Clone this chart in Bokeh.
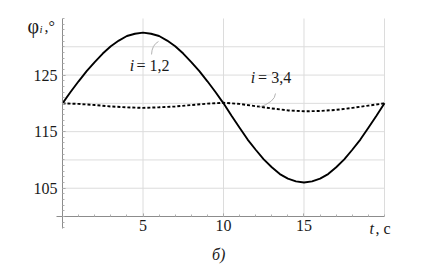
from bokeh.plotting import figure
from bokeh.models import Label, LinearAxis, FixedTicker, Range1d
from bokeh.embed import file_html
from bokeh.resources import INLINE

# ---- data ----
t_solid = [0, 0.5, 1, 1.5, 2, 2.5, 3, 3.5, 4, 4.5, 5, 5.5, 6, 6.5, 7, 7.5, 8, 8.5, 9, 9.5, 10,
           10.5, 11, 11.5, 12, 12.5, 13, 13.5, 14, 14.5, 15, 15.5, 16, 16.5, 17, 17.5, 18, 18.5, 19, 19.5, 20]
phi_12 = [120.0, 122.0, 123.9, 125.7, 127.3, 128.8, 130.1, 131.1, 131.9, 132.3, 132.5,
          132.3, 131.9, 131.1, 130.1, 128.8, 127.3, 125.7, 123.9, 122.0, 120.0,
          117.8, 115.7, 113.6, 111.8, 110.1, 108.7, 107.5, 106.7, 106.2, 106.0,
          106.2, 106.7, 107.5, 108.7, 110.1, 111.8, 113.6, 115.7, 117.8, 120.0]
t_dash = [0, 1, 2, 3, 4, 5, 6, 7, 8, 9, 10, 11, 12, 13, 14, 15, 16, 17, 18, 19, 20]
phi_34 = [120.0, 119.9, 119.7, 119.45, 119.3, 119.2, 119.3, 119.45, 119.7, 119.95, 120.1,
          119.9, 119.5, 119.1, 118.75, 118.6, 118.65, 118.85, 119.2, 119.6, 120.0]

x_major = [5, 10, 15]
x_minor = list(range(0, 21))
y_major = [105, 115, 125]
y_minor = list(range(98, 136))
x_grid = [5, 10, 15, 20]
y_grid = [105, 110, 115, 120, 125, 130]

FONT = "Liberation Serif"
TXT = "#1a1a1a"

p = figure(width=446, height=268,
           x_range=Range1d(-3.851, 23.851), y_range=Range1d(90.81, 138.18),
           output_backend="svg", toolbar_location=None,
           x_axis_type=None, y_axis_type=None,
           min_border=0, min_border_left=0, min_border_right=0,
           min_border_top=0, min_border_bottom=0,
           outline_line_color=None, background_fill_color="white", border_fill_color="white")

# grid lines
p.segment(x0=x_grid, y0=[100] * len(x_grid), x1=x_grid, y1=[135] * len(x_grid),
          line_color="#dcdcdc", line_width=1)
p.segment(x0=[0] * len(y_grid), y0=y_grid, x1=[20] * len(y_grid), y1=y_grid,
          line_color="#dcdcdc", line_width=1)

# axes
xaxis = LinearAxis(ticker=FixedTicker(ticks=x_major, minor_ticks=x_minor),
                   fixed_location=100, bounds=(-0.4, 20))
xaxis.axis_line_color = "#8c8c8c"
xaxis.major_tick_line_color = "#a0a0a0"
xaxis.minor_tick_line_color = "#b0b0b0"
xaxis.major_tick_in = 3
xaxis.major_tick_out = 0
xaxis.minor_tick_in = 2
xaxis.minor_tick_out = 0
xaxis.major_label_standoff = 3
xaxis.major_label_text_font = FONT
xaxis.major_label_text_font_size = "16px"
xaxis.major_label_text_color = TXT
p.add_layout(xaxis, "below")

yaxis = LinearAxis(ticker=FixedTicker(ticks=y_major, minor_ticks=y_minor),
                   fixed_location=0, bounds=(97.88, 135))
yaxis.axis_line_color = "#8c8c8c"
yaxis.major_tick_line_color = "#a0a0a0"
yaxis.minor_tick_line_color = "#b0b0b0"
yaxis.major_tick_in = 3
yaxis.major_tick_out = 0
yaxis.minor_tick_in = 2
yaxis.minor_tick_out = 0
yaxis.major_label_standoff = 5
yaxis.major_label_text_font = FONT
yaxis.major_label_text_font_size = "16px"
yaxis.major_label_text_color = TXT
p.add_layout(yaxis, "left")

# curves
p.line(t_solid, phi_12, line_color="black", line_width=1.9)
p.line(t_dash, phi_34, line_color="black", line_width=1.9, line_dash="3 2")

# leader lines
p.quadratic(x0=[5.53], y0=[128.64], x1=[5.96], y1=[130.93], cx=[5.55], cy=[130.3],
            line_color="#b4b4b4", line_width=1)
p.quadratic(x0=[13.23], y0=[121.74], x1=[12.17], y1=[119.27], cx=[13.2], cy=[120.2],
            line_color="#b4b4b4", line_width=1)

LIFT = 4


def lab(x, y, text, style="normal", size="16px", align="left", xo=0, yo=0):
    p.add_layout(Label(x=x, y=y, text=text, x_offset=xo, y_offset=yo + LIFT,
                       text_font=FONT, text_font_size=size, text_font_style=style,
                       text_color=TXT, text_align=align, text_baseline="alphabetic"))


lab(4.17, 125.81, "i", "italic", yo=1)
lab(4.60, 125.81, "= 1,2", yo=1)
lab(11.69, 123.69, "i", "italic", yo=1)
lab(12.15, 123.69, "= 3,4", yo=1)

# y axis title
lab(0, 132.88, "\u03c6", size="20px", xo=-35)
lab(0, 132.88, "i", "italic", size="11px", xo=-23, yo=-3)
lab(0, 132.88, ",\u00b0", xo=-18)

# x axis title
lab(20, 97.17, "t", "italic", xo=-15)
lab(20, 97.17, ", c", xo=-9)

# caption
lab(9.70, 92.65, "\u0431)", "italic", align="center")

open("out.html", "w").write(file_html(p, INLINE))
